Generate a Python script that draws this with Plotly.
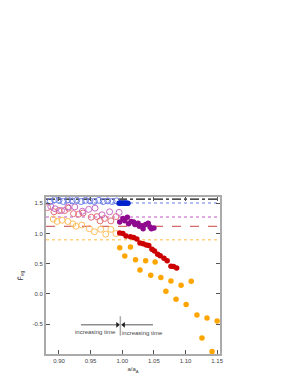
import plotly.graph_objects as go

# Reference levels
level_black = 1.57
level_blue = 1.505
level_violet = 1.275
level_red = 1.12
level_orange = 0.898

# Open circles (a/a_A < 1)
blue_open_x = [0.886, 0.893, 0.900, 0.907, 0.914, 0.921, 0.928, 0.935, 0.942, 0.949, 0.956, 0.963, 0.970, 0.977, 0.984, 0.991]
blue_open_y = [1.53, 1.56, 1.55, 1.53, 1.56, 1.54, 1.55, 1.53, 1.55, 1.54, 1.53, 1.55, 1.53, 1.54, 1.53, 1.54]

violet_open_x = [0.887, 0.894, 0.904, 0.914, 0.925, 0.937, 0.947, 0.957, 0.968, 0.980, 0.995]
violet_open_y = [1.45, 1.41, 1.38, 1.44, 1.44, 1.37, 1.40, 1.42, 1.31, 1.36, 1.35]

red_open_x = [0.882, 0.892, 0.900, 0.909, 0.915, 0.923, 0.931, 0.938, 0.951, 0.960, 0.965, 0.972, 0.982, 0.990]
red_open_y = [1.43, 1.36, 1.38, 1.38, 1.42, 1.33, 1.32, 1.34, 1.27, 1.28, 1.21, 1.25, 1.21, 1.28]

orange_open_x = [0.891, 0.897, 0.905, 0.914, 0.922, 0.927, 0.936, 0.948, 0.956, 0.966, 0.974, 0.982, 0.990]
orange_open_y = [1.24, 1.20, 1.22, 1.20, 1.16, 1.12, 1.14, 1.08, 1.03, 1.07, 0.99, 1.07, 1.00]

# Filled circles (a/a_A > 1)
blue_fill_x = [0.995, 0.997, 0.999, 1.001, 1.003, 1.005, 1.007, 1.009]
blue_fill_y = [1.50, 1.505, 1.50, 1.505, 1.50, 1.505, 1.50, 1.50]

purple_fill_x = [0.996, 1.001, 1.004, 1.008, 1.010, 1.014, 1.018, 1.020, 1.025, 1.027, 1.031, 1.033, 1.037, 1.041, 1.044, 1.046, 1.050]
purple_fill_y = [1.19, 1.25, 1.21, 1.27, 1.16, 1.20, 1.19, 1.15, 1.17, 1.12, 1.13, 1.08, 1.15, 1.17, 1.11, 1.08, 1.09]

red_fill_x = [0.996, 1.001, 1.006, 1.013, 1.018, 1.023, 1.028, 1.033, 1.038, 1.042, 1.047, 1.051, 1.056, 1.060, 1.066, 1.071, 1.077, 1.081, 1.086]
red_fill_y = [1.01, 1.00, 0.96, 0.945, 0.935, 0.91, 0.845, 0.83, 0.81, 0.80, 0.74, 0.71, 0.655, 0.634, 0.59, 0.55, 0.46, 0.455, 0.43]

orange_fill_x = [0.996, 1.004, 1.013, 1.021, 1.028, 1.037, 1.045, 1.052, 1.061, 1.069, 1.077, 1.085, 1.093, 1.101, 1.109, 1.118, 1.126, 1.134, 1.142, 1.150]
orange_fill_y = [0.766, 0.63, 0.776, 0.566, 0.396, 0.55, 0.31, 0.528, 0.27, 0.045, 0.215, -0.09, 0.145, -0.175, 0.21, -0.35, -0.73, -0.40, -0.955, -0.45]

x_ticks = [0.90, 0.95, 1.00, 1.05, 1.10, 1.15]
x_tick_labels = ["0.90", "0.95", "1.00", "1.05", "1.10", "1.15"]
y_ticks = [-0.5, 0.0, 0.5, 1.0, 1.5]
y_tick_labels = ["-0.5", "0.0", "0.5", "1.0", "1.5"]

# arrows: "increasing time" towards a/a_A = 1
arrow_y = -0.512
left_arrow_x = [0.9348, 0.9925]
right_arrow_x = [1.0486, 1.0022]
time_label = "increasing time"

x_range = [0.8795, 1.1545]
y_range = [-0.995, 1.605]

fig = go.Figure()

def hline(y, color, dash, width=1.3):
    fig.add_trace(go.Scatter(x=x_range, y=[y, y], mode="lines",
                             line=dict(color=color, dash=dash, width=width),
                             showlegend=False, hoverinfo="skip"))

hline(level_black, "#111111", "dashdot", 1.3)
hline(level_blue, "#9aa8ee", "dot", 1.5)
hline(level_violet, "#d690d6", "dot", 1.5)
hline(level_red, "#cc4444", "dash", 1.0)
hline(level_orange, "#ffd27f", "dot", 1.5)

def opens(x, y, color):
    fig.add_trace(go.Scatter(x=x, y=y, mode="markers",
                             marker=dict(symbol="circle-open", size=6, color=color, line=dict(width=1)),
                             showlegend=False))

def fills(x, y, color):
    fig.add_trace(go.Scatter(x=x, y=y, mode="markers",
                             marker=dict(symbol="circle", size=5.5, color=color, line=dict(width=0)),
                             showlegend=False))

opens(orange_open_x, orange_open_y, "#ffbf5f")
opens(red_open_x, red_open_y, "#e2707a")
opens(violet_open_x, violet_open_y, "#c76ac7")
opens(blue_open_x, blue_open_y, "#7080e8")

fills(orange_fill_x, orange_fill_y, "#ffa500")
fills(red_fill_x, red_fill_y, "#cc0000")
fills(purple_fill_x, purple_fill_y, "#8f0a8f")
fills(blue_fill_x, blue_fill_y, "#0022cc")

# vertical marker at a/a_A = 1
fig.add_shape(type="line", x0=0.997, x1=0.997, y0=-0.37, y1=-0.69,
              line=dict(color="#aaaaaa", width=1.5))

# arrows drawn as line + triangle head
fig.add_trace(go.Scatter(x=left_arrow_x, y=[arrow_y, arrow_y], mode="lines",
                         line=dict(color="#555555", width=1), showlegend=False, hoverinfo="skip"))
fig.add_trace(go.Scatter(x=right_arrow_x, y=[arrow_y, arrow_y], mode="lines",
                         line=dict(color="#555555", width=1), showlegend=False, hoverinfo="skip"))
fig.add_trace(go.Scatter(x=[left_arrow_x[1]], y=[arrow_y], mode="markers",
                         marker=dict(symbol="triangle-right", size=5, color="#222222"),
                         showlegend=False, hoverinfo="skip"))
fig.add_trace(go.Scatter(x=[right_arrow_x[1]], y=[arrow_y], mode="markers",
                         marker=dict(symbol="triangle-left", size=5, color="#222222"),
                         showlegend=False, hoverinfo="skip"))

fig.add_annotation(x=0.9575, y=-0.635, text=time_label, showarrow=False,
                   font=dict(size=6, color="#444444"))
fig.add_annotation(x=1.0325, y=-0.65, text=time_label, showarrow=False,
                   font=dict(size=6, color="#444444"))

axis_common = dict(showline=True, linecolor="#aaaaaa", linewidth=2, mirror="ticks",
                   ticks="inside", ticklen=4, tickwidth=1, tickcolor="#555555",
                   showgrid=False, zeroline=False,
                   tickfont=dict(size=6, color="#444444", family="Liberation Sans"))

fig.update_xaxes(range=x_range, tickvals=x_ticks, ticktext=x_tick_labels,
                 title=dict(text="a/a<sub>A</sub>", font=dict(size=6, color="#444444"), standoff=4),
                 **axis_common)
fig.update_yaxes(range=y_range, tickvals=y_ticks, ticktext=y_tick_labels,
                 title=dict(text="F̄<sub>eg</sub>", font=dict(size=7, color="#444444"), standoff=8),
                 **axis_common)

fig.update_layout(width=291, height=376, plot_bgcolor="white", paper_bgcolor="white",
                  margin=dict(l=33, r=79, t=189, b=23),
                  font=dict(family="Liberation Sans", size=6, color="#444444"),
                  showlegend=False)

fig.write_html("out.html")
